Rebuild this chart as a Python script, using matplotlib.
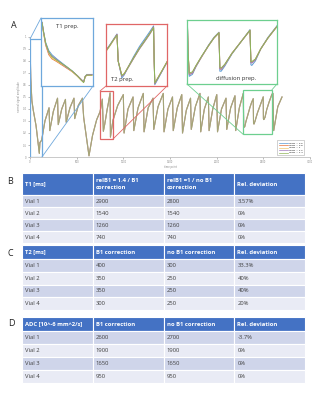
import matplotlib
matplotlib.use('Agg')
import matplotlib.pyplot as plt
from matplotlib.patches import Rectangle, ConnectionPatch

# ---------------- data ----------------
series_labels = ['relB1 = 0.6', 'relB1 = 0.8', 'relB1 = 1', 'relB1 = 1.2', 'relB1 = 1.4']
series_colors = ['#5b9bd5', '#e8743b', '#f0c66e', '#a27bc0', '#8fb556']

main_t = [0, 8, 20, 35, 65, 100, 106, 125, 160, 204, 212, 250, 295, 303, 340, 380, 388, 428,
          471, 479, 518, 562, 575, 632, 670, 714, 751, 775, 786, 800, 813, 826, 840, 858, 862,
          868, 878, 889, 940, 1000, 1008, 1050, 1104, 1112, 1158, 1214, 1222, 1266, 1318, 1326,
          1372, 1428, 1436, 1478, 1527, 1535, 1578, 1626, 1634, 1675, 1720, 1728, 1772, 1821,
          1829, 1868, 1911, 1919, 1958, 2001, 2009, 2052, 2100, 2108, 2150, 2196, 2204, 2243,
          2285, 2290, 2301, 2313, 2332, 2356, 2375, 2392, 2395, 2400, 2412, 2437, 2468, 2499,
          2501, 2505, 2518, 2536, 2561, 2592, 2603, 2611, 2655, 2700]
main_s = [0.97, 0.66, 0.47, 0.39, 0.26, 0.03, 0.12, 0.14, 0.30, 0.41, 0.22, 0.38, 0.49, 0.27,
          0.40, 0.48, 0.29, 0.41, 0.49, 0.32, 0.43, 0.49, 0.33, 0.01, 0.18, 0.31, 0.378, 0.482,
          0.214, 0.27, 0.33, 0.394, 0.45, 0.534, 0.166, 0.202, 0.25, 0.306, 0.43, 0.52, 0.20,
          0.40, 0.50, 0.22, 0.41, 0.53, 0.21, 0.41, 0.49, 0.23, 0.42, 0.53, 0.21, 0.40, 0.50,
          0.22, 0.41, 0.52, 0.20, 0.39, 0.49, 0.23, 0.42, 0.53, 0.21, 0.40, 0.50, 0.22, 0.40,
          0.52, 0.21, 0.40, 0.49, 0.23, 0.41, 0.51, 0.22, 0.41, 0.53, 0.245, 0.253, 0.294, 0.345,
          0.412, 0.456, 0.486, 0.279, 0.275, 0.301, 0.368, 0.434, 0.501, 0.32, 0.312, 0.331,
          0.394, 0.456, 0.523, 0.53, 0.22, 0.42, 0.50]

x_ticks = [0, 500, 1000, 1500, 2000, 2500, 3000]
x_ticklabels = ['0', '500', '1000', '1500', '2000', '2500', '3000']
y_ticks = [0, 0.1, 0.2, 0.3, 0.4, 0.5, 0.6, 0.7, 0.8, 0.9, 1.0]
y_ticklabels = ['0', '0.1', '0.2', '0.3', '0.4', '0.5', '0.6', '0.7', '0.8', '0.9', '1']

# inset: T1 prep. (relative units of zoom window)
t1_x = [0.02, 0.05, 0.09, 0.15, 0.21, 0.30, 0.40, 0.50, 0.60, 0.70, 0.78, 0.82, 0.85, 0.88, 0.98]
t1_y = [
    [0.94, 0.80, 0.64, 0.52, 0.46, 0.40, 0.34, 0.28, 0.22, 0.15, 0.09, 0.06, 0.14, 0.17, 0.17],
    [0.93, 0.78, 0.60, 0.46, 0.40, 0.36, 0.31, 0.26, 0.21, 0.15, 0.09, 0.06, 0.14, 0.16, 0.16],
    [0.92, 0.77, 0.61, 0.48, 0.41, 0.37, 0.32, 0.27, 0.21, 0.14, 0.08, 0.06, 0.13, 0.16, 0.16],
    [0.93, 0.79, 0.62, 0.49, 0.44, 0.39, 0.33, 0.27, 0.22, 0.15, 0.09, 0.06, 0.14, 0.16, 0.17],
    [0.93, 0.79, 0.63, 0.50, 0.43, 0.38, 0.33, 0.28, 0.22, 0.15, 0.08, 0.05, 0.14, 0.16, 0.16],
]
# inset: T2 prep.
t2_x = [0.0, 0.06, 0.12, 0.18, 0.20, 0.26, 0.30, 0.36, 0.45, 0.55, 0.65, 0.72, 0.78, 0.79, 0.80,
        0.85, 0.92, 1.0]
t2_y = [
    [0.58, 0.66, 0.75, 0.84, 0.40, 0.13, 0.18, 0.30, 0.47, 0.64, 0.78, 0.88, 0.97, 0.40, 0.02, 0.11, 0.24, 0.39],
    [0.57, 0.65, 0.74, 0.83, 0.40, 0.16, 0.20, 0.30, 0.45, 0.61, 0.75, 0.85, 0.95, 0.40, 0.04, 0.13, 0.25, 0.39],
    [0.56, 0.64, 0.73, 0.82, 0.40, 0.17, 0.20, 0.29, 0.44, 0.60, 0.74, 0.84, 0.94, 0.40, 0.05, 0.13, 0.25, 0.38],
    [0.57, 0.65, 0.74, 0.83, 0.40, 0.16, 0.19, 0.29, 0.44, 0.60, 0.74, 0.84, 0.94, 0.40, 0.04, 0.12, 0.24, 0.38],
    [0.56, 0.65, 0.74, 0.82, 0.40, 0.17, 0.20, 0.30, 0.45, 0.61, 0.75, 0.85, 0.94, 0.40, 0.05, 0.13, 0.25, 0.39],
]
# inset: diffusion prep.
df_x = [0.005, 0.012, 0.025, 0.06, 0.10, 0.16, 0.24, 0.30, 0.355, 0.365, 0.38, 0.42, 0.50, 0.60,
        0.70, 0.71, 0.72, 0.76, 0.82, 0.90, 1.0]
df_y = [
    [0.93, 0.50, 0.12, 0.15, 0.27, 0.42, 0.61, 0.73, 0.81, 0.20, 0.20, 0.28, 0.47, 0.66, 0.85, 0.30, 0.29, 0.36, 0.55, 0.73, 0.91],
    [0.92, 0.50, 0.15, 0.17, 0.28, 0.42, 0.60, 0.72, 0.80, 0.24, 0.23, 0.30, 0.48, 0.66, 0.84, 0.34, 0.33, 0.38, 0.55, 0.72, 0.90],
    [0.92, 0.50, 0.16, 0.18, 0.28, 0.42, 0.60, 0.72, 0.80, 0.25, 0.24, 0.30, 0.48, 0.66, 0.84, 0.35, 0.34, 0.39, 0.55, 0.72, 0.90],
    [0.92, 0.50, 0.15, 0.17, 0.28, 0.42, 0.60, 0.72, 0.80, 0.24, 0.23, 0.30, 0.48, 0.66, 0.84, 0.34, 0.33, 0.38, 0.55, 0.72, 0.90],
    [0.92, 0.50, 0.17, 0.19, 0.29, 0.43, 0.60, 0.72, 0.80, 0.26, 0.25, 0.31, 0.48, 0.66, 0.84, 0.35, 0.35, 0.39, 0.55, 0.72, 0.90],
]

# tables
vials = ['Vial 1', 'Vial 2', 'Vial 3', 'Vial 4']
t1_header = ['T1 [ms]', 'relB1 = 1.4 / B1\ncorrection', 'relB1 =1 / no B1\ncorrection', 'Rel. deviation']
t1_corr = ['2900', '1540', '1260', '740']
t1_nocorr = ['2800', '1540', '1260', '740']
t1_dev = ['3.57%', '0%', '0%', '0%']
t2_header = ['T2 [ms]', 'B1 correction', 'no B1 correction', 'Rel. deviation']
t2_corr = ['400', '350', '350', '300']
t2_nocorr = ['300', '250', '250', '250']
t2_dev = ['33.3%', '40%', '40%', '20%']
adc_header = ['ADC [10^-6 mm^2/s]', 'B1 correction', 'no B1 correction', 'Rel. deviation']
adc_corr = ['2600', '1900', '1650', '950']
adc_nocorr = ['2700', '1900', '1650', '950']
adc_dev = ['-3.7%', '0%', '0%', '0%']

# ---------------- figure ----------------
W, H = 321, 400
FONT = 'Open Sans'
fig = plt.figure(figsize=(W / 100, H / 100), dpi=100)
fig.patch.set_facecolor('white')


def px_axes(x0, y0, x1, y1):
    return fig.add_axes([x0 / W, 1 - y1 / H, (x1 - x0) / W, (y1 - y0) / H])


ax = px_axes(30, 37, 310, 157)
for lab, col in zip(series_labels, series_colors):
    ax.plot(main_t, main_s, color=col, lw=0.75, alpha=0.55, label=lab)
ax.set_xlim(0, 3000)
ax.set_ylim(0, 1)
ax.set_xticks(x_ticks)
ax.set_xticklabels(x_ticklabels)
ax.set_yticks(y_ticks)
ax.set_yticklabels(y_ticklabels)
ax.tick_params(axis='both', labelsize=1.8, colors='#888888', length=1.5, width=0.4, pad=1)
for s in ['top', 'right']:
    ax.spines[s].set_visible(False)
for s in ['bottom', 'left']:
    ax.spines[s].set_color('#c0c0c0')
    ax.spines[s].set_linewidth(0.6)
ax.set_xlabel('time point', fontsize=1.8, color='#888888', labelpad=0.5)
ax.set_ylabel('normal signal amplitude', fontsize=1.8, color='#888888', labelpad=1)
leg = ax.legend(loc='lower left', bbox_to_anchor=(0.879, 0.008), fontsize=1.7, frameon=True,
                fancybox=False, edgecolor='#999999', handlelength=4, borderpad=0.6,
                labelspacing=0.35, handletextpad=0.4)
leg.get_frame().set_linewidth(0.4)
for lh in leg.get_lines():
    lh.set_alpha(1)
    lh.set_linewidth(0.5)

blue_c, red_c, green_c = '#6fa8dc', '#e06666', '#6dcf8f'

ins_specs = [
    ((41, 18, 93, 86), blue_c, t1_x, t1_y, 'T1 prep.', (0.5, 0.87)),
    ((106, 24, 167, 86), red_c, t2_x, t2_y, 'T2 prep.', (0.27, 0.10)),
    ((187, 20, 277, 84), green_c, df_x, df_y, 'diffusion prep.', (0.545, 0.09)),
]
boxes = [((0, 0.0), 128, 0.983), ((750, 0.15), 139, 0.40), ((2282, 0.19), 310, 0.37)]
links = [
    [((0, 0.983), (0, 1)), ((128, 0.0), (1, 0))],
    [((750, 0.55), (0, 0)), ((889, 0.15), (1, 0))],
    [((2282, 0.19), (0, 0)), ((2592, 0.56), (1, 0))],
]

for (pos, col, xs, ys, title, tpos), box, lk in zip(ins_specs, boxes, links):
    ins = px_axes(*pos)
    for yy, c in zip(ys, series_colors):
        ins.plot(xs, yy, color=c, lw=0.7)
    ins.set_xlim(0, 1)
    ins.set_ylim(0, 1)
    ins.set_xticks([])
    ins.set_yticks([])
    for s in ins.spines.values():
        s.set_color(col)
        s.set_linewidth(0.9)
    ins.text(tpos[0], tpos[1], title, transform=ins.transAxes, ha='center', va='center',
             fontsize=4.2, color='#333333', family=FONT)
    ax.add_patch(Rectangle(box[0], box[1], box[2], fill=False, edgecolor=col, lw=0.9, zorder=5))
    for a, b in lk:
        con = ConnectionPatch(xyA=a, coordsA=ax.transData, xyB=b, coordsB=ins.transAxes,
                              color=col, lw=0.6)
        fig.add_artist(con)

# panel letters
for letter, (lx, ly) in zip(['A', 'B', 'C', 'D'], [(14, 25), (10, 181), (10, 254), (11, 324)]):
    fig.text(lx / W, 1 - ly / H, letter, fontsize=6.5, ha='center', va='center',
             color='#222222', family=FONT)

# tables
HEAD_C, DARK_C, LIGHT_C = '#4472c4', '#cfd5ea', '#e9ebf5'


def make_table(px_box, header, c1, c2, c3, head_ratio):
    tax = px_axes(*px_box)
    tax.axis('off')
    rows = [[v, a, b, d] for v, a, b, d in zip(vials, c1, c2, c3)]
    colours = [[DARK_C] * 4 if i % 2 == 0 else [LIGHT_C] * 4 for i in range(len(rows))]
    tbl = tax.table(cellText=rows, colLabels=header, cellColours=colours,
                    colColours=[HEAD_C] * 4, cellLoc='left', colLoc='left', bbox=[0, 0, 1, 1])
    tbl.auto_set_font_size(False)
    tbl.set_fontsize(4.2)
    cells = tbl.get_celld()
    base_h = cells[(1, 0)].get_height()
    for (r, c), cell in cells.items():
        cell.set_edgecolor('white')
        cell.set_linewidth(0.8)
        cell.PAD = 0.045
        txt = cell.get_text()
        txt.set_family(FONT)
        if r == 0:
            cell.set_height(base_h * head_ratio)
            txt.set_color('white')
            txt.set_fontweight('bold')
            txt.set_linespacing(1.3)
        else:
            txt.set_color('#404040')
    return tbl


make_table((22, 173, 305, 243), t1_header, t1_corr, t1_nocorr, t1_dev, 22 / 12)
make_table((22, 245, 305, 310), t2_header, t2_corr, t2_nocorr, t2_dev, 14 / 12.75)
make_table((22, 317, 305, 383), adc_header, adc_corr, adc_nocorr, adc_dev, 14 / 13)

fig.savefig('out.png', dpi=100)
